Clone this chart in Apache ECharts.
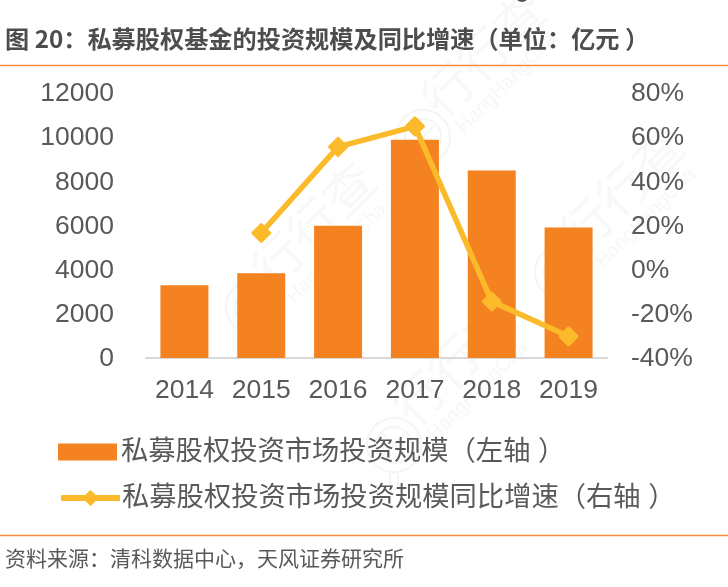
<!DOCTYPE html>
<html><head><meta charset="utf-8">
<style>html,body{margin:0;padding:0;background:#fff}#c{width:728px;height:587px}</style>
<script src="https://cdn.jsdelivr.net/npm/echarts@6/dist/echarts.min.js"></script>
</head><body><div id="c"></div>
<script>
const categories = ['2014','2015','2016','2017','2018','2019'];
const scaleValues = [3290, 3835, 5990, 9885, 8495, 5915];
const growthValues = [null, 16.6, 55.6, 64.9, -14.4, -30.2];
const barName = '私募股权投资市场投资规模（左轴 ）';
const lineName = '私募股权投资市场投资规模同比增速（右轴 ）';
const titleText = '图 20：私募股权基金的投资规模及同比增速（单位：亿元 ）';
const sourceText = '资料来源：清科数据中心，天风证券研究所';

const CJK = '"Liberation Sans","Noto Sans CJK SC",sans-serif';
const TXT = '#595959', ORANGE = '#F58220', YEL = '#FBBA2A';

function mark(x, y) {
  const s = {stroke: '#f5f5f5', fill: 'none', lineWidth: 2};
  return [
    {type:'circle', silent:true, z:0, shape:{cx:x, cy:y, r:27}, style:s},
    {type:'circle', silent:true, z:0, shape:{cx:x, cy:y, r:18}, style:s},
    {type:'line', silent:true, z:0, shape:{x1:x-11, y1:y-11, x2:x+11, y2:y+11}, style:s},
    {type:'line', silent:true, z:0, shape:{x1:x+11, y1:y-11, x2:x-11, y2:y+11}, style:s},
    {type:'rect', silent:true, z:0, shape:{x:x-4, y:y+27, width:8, height:18, r:4}, style:s},
    {type:'text', silent:true, z:0, x:x+7, y:y-30, rotation:Math.PI/4,
     style:{text:'行行查', font:'50px "Noto Sans CJK SC"', fill:'#f8f8f8', verticalAlign:'middle'}},
    {type:'text', silent:true, z:0, x:x+37, y:y-7, rotation:Math.PI/4,
     style:{text:'HangHangCha', font:'20px "Liberation Sans"', fill:'#f7f7f7', verticalAlign:'middle'}}
  ];
}

const chart = echarts.init(document.getElementById('c'), null, {renderer:'canvas'});
chart.setOption({
  animation:false,
  backgroundColor:'#fff',
  title:[
    {text:titleText, left:5, top:27, padding:0, textStyle:{fontFamily:'"Noto Sans CJK SC"', fontWeight:'bold', fontSize:24.2, color:'#4d4d4d'}},
    {text:sourceText, left:5, top:548, padding:0, textStyle:{fontFamily:'"Noto Sans CJK SC"', fontWeight:'normal', fontSize:21, color:'#595959'}}
  ],
  grid:{left:146, right:121, top:93, height:265, containLabel:false},
  legend:[
    {left:58, top:436, padding:0, itemWidth:59, itemHeight:17, icon:'rect',
     textStyle:{fontFamily:CJK, fontSize:27.3, color:TXT, lineHeight:32, padding:[0,0,0,-1]},
     data:[{name:barName, itemStyle:{borderWidth:0}}]},
    {left:58, top:482, padding:0, itemWidth:59, itemHeight:17, symbolSize:19,
     textStyle:{fontFamily:CJK, fontSize:27.3, color:TXT, lineHeight:32, padding:[0,0,0,-3]},
     lineStyle:{width:6},
     data:[{name:lineName}]}
  ],
  xAxis:{type:'category', data:categories,
    axisTick:{show:false},
    axisLine:{lineStyle:{color:'#d9d9d9', width:2}},
    axisLabel:{fontFamily:'"Liberation Sans"', fontSize:26.5, color:TXT, margin:19}},
  yAxis:[
    {type:'value', min:0, max:12000, interval:2000, splitLine:{show:false}, axisLine:{show:false}, axisTick:{show:false},
     axisLabel:{fontFamily:'"Liberation Sans"', fontSize:26.5, color:TXT, margin:32, verticalAlign:'top', lineHeight:2, formatter:v=>String(v)}},
    {type:'value', min:-40, max:80, interval:20, splitLine:{show:false}, axisLine:{show:false}, axisTick:{show:false},
     axisLabel:{fontFamily:'"Liberation Sans"', fontSize:26.5, color:TXT, margin:24, verticalAlign:'top', lineHeight:2, formatter:'{value}%'}}
  ],
  series:[
    {name:barName, type:'bar', data:scaleValues, barWidth:48, itemStyle:{color:ORANGE}, z:2},
    {name:lineName, type:'line', yAxisIndex:1, data:growthValues, symbol:'diamond', symbolSize:17,
     lineStyle:{color:YEL, width:5.5}, itemStyle:{color:YEL, borderColor:YEL, borderWidth:3, borderJoin:'round'}, z:3}
  ],
  graphic:[
    ...mark(253,307), ...mark(562,272), ...mark(423,137), ...mark(394,445),
    {type:'circle', silent:true, z:1, shape:{cx:522,cy:-5,r:7}, style:{fill:'#555'}},
    {type:'line', silent:true, z:1, shape:{x1:0,y1:65.5,x2:728,y2:65.5}, style:{stroke:'#F58B3C', lineWidth:1.5}},
    {type:'line', silent:true, z:1, shape:{x1:0,y1:535.5,x2:728,y2:535.5}, style:{stroke:'#F58B3C', lineWidth:1.5}}
  ]
});
</script></body></html>
